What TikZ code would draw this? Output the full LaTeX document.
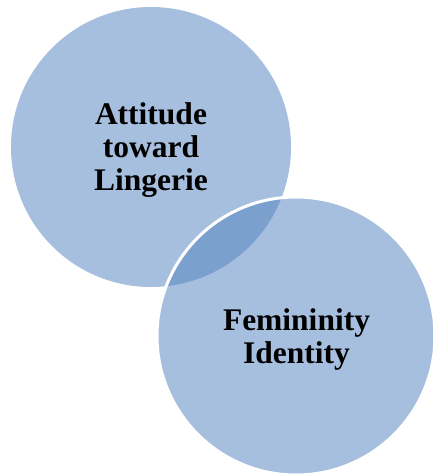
\documentclass[tikz,border=0pt]{standalone}
\usepackage{fontspec}
\setmainfont{Liberation Serif}
\definecolor{bubblefill}{HTML}{A7BFDE}
\definecolor{overlapfill}{HTML}{7BA0CD}
\tikzset{
  bubble/.style={circle, fill=bubblefill, inner sep=0pt, minimum size=#1},
  bubbletext/.style={align=center, font=\fontsize{31.5}{33}\selectfont\bfseries, text=black, inner sep=0pt},
}
\begin{document}
\begin{tikzpicture}[x=1pt,y=-1pt]
\useasboundingbox (0,0) rectangle (432,474);
\node[bubble=280pt] (c1) at (151,147) {};
\node[bubble=278pt] (c2) at (296,336) {};
\begin{scope}
  \clip (c2.center) circle (139);
  \fill[overlapfill] (c1.center) circle (140);
\end{scope}
\draw[white, line width=3pt] (c2.center) circle (139);
\node[bubbletext] (t1) at (151,149.6) {Attitude\\toward\\Lingerie};
\node[bubbletext] (t2) at (296.5,339) {Femininity\\Identity};
\end{tikzpicture}
\end{document}
